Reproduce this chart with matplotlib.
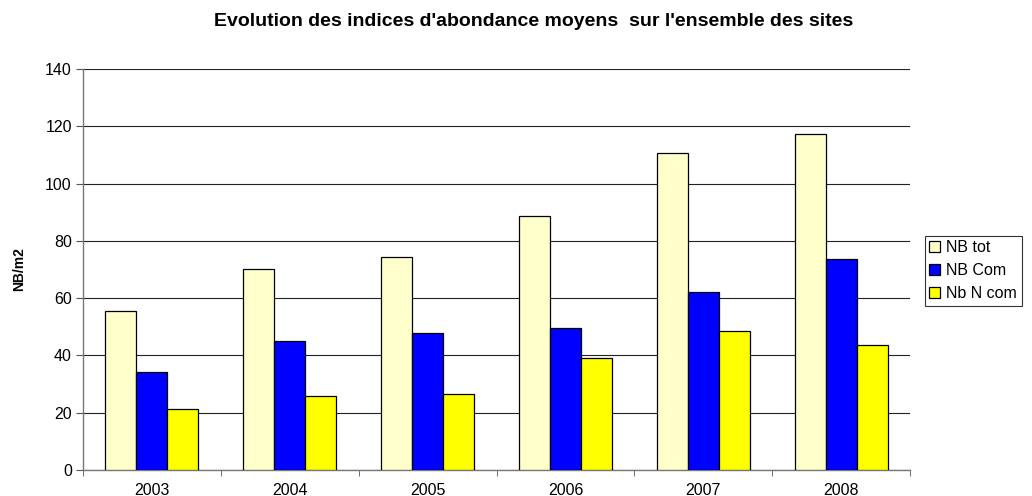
import numpy as np
import matplotlib
matplotlib.use("Agg")
import matplotlib.pyplot as plt

plt.rcParams['font.family'] = ['Liberation Sans', 'DejaVu Sans']

years = ['2003', '2004', '2005', '2006', '2007', '2008']
nb_tot = [55.4, 70.2, 74.4, 88.7, 110.7, 117.4]
nb_com = [34.1, 45.0, 47.8, 49.7, 62.1, 73.7]
nb_ncom = [21.3, 25.8, 26.5, 39.0, 48.5, 43.6]
series_names = ['NB tot', 'NB Com', 'Nb N com']
series_colors = ['#ffffcc', '#0000ff', '#ffff00']

fig = plt.figure(figsize=(10.32, 4.96), dpi=100)
ax = fig.add_axes([0.0804, 0.0524, 0.8016, 0.8086])

x = np.arange(len(years))
w = 0.225
for i, (vals, col, name) in enumerate(zip([nb_tot, nb_com, nb_ncom], series_colors, series_names)):
    ax.bar(x + (i - 1) * w, vals, width=w, color=col, edgecolor='black',
           linewidth=0.9, label=name, zorder=3)

ax.set_xlim(-0.5, len(years) - 0.5)
ax.set_ylim(0, 140)
ax.set_yticks(range(0, 141, 20))
ax.yaxis.grid(True, color='#222222', linewidth=0.8, zorder=0)
ax.set_xticks(x)
ax.set_xticklabels(years, fontsize=11.5)
ax.set_xticks(np.arange(-0.5, len(years), 1), minor=True)
ax.tick_params(axis='x', which='major', length=0, pad=9)
ax.tick_params(axis='x', which='minor', length=4, color='#555555', direction='out')
ax.tick_params(axis='y', length=5, color='#555555', direction='out', labelsize=11.5, pad=3)

for s in ['top', 'right']:
    ax.spines[s].set_visible(False)
for s in ['left', 'bottom']:
    ax.spines[s].set_color('#777777')
    ax.spines[s].set_linewidth(1.0)

ax.set_ylabel('NB/m2', fontsize=10, fontweight='bold')
ax.yaxis.set_label_coords(-0.069, 0.5)
fig.text(0.517, 0.957, "Evolution des indices d'abondance moyens  sur l'ensemble des sites",
         ha='center', va='center', fontsize=14, fontweight='bold')

leg = ax.legend(loc='upper left', bbox_to_anchor=(0.896, 0.525), bbox_transform=fig.transFigure,
                fontsize=11.5, frameon=True, fancybox=False, edgecolor='black',
                handlelength=0.65, handleheight=0.65, handletextpad=0.4,
                labelspacing=0.5, borderpad=0.3, borderaxespad=0)
leg.get_frame().set_linewidth(0.8)

fig.savefig('out.png', dpi=100)
